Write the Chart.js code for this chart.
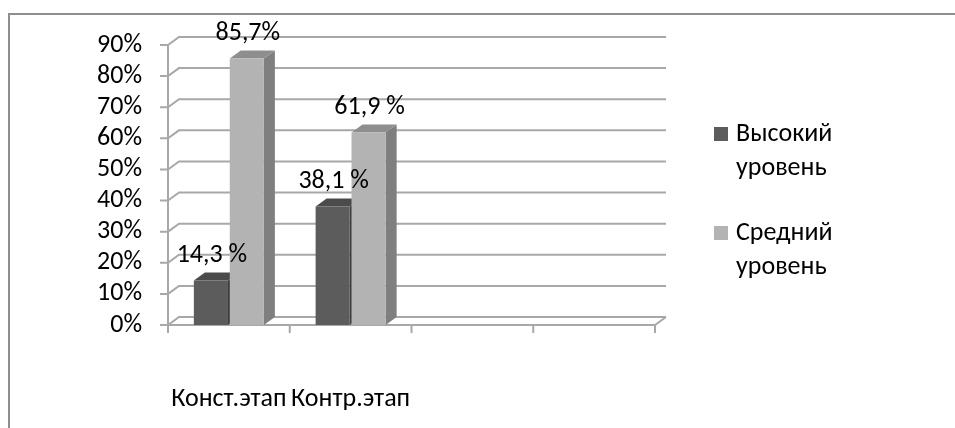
<!DOCTYPE html>
<html lang="ru">
<head>
<meta charset="utf-8">
<title>Уровни по этапам</title>
<script src="https://cdn.jsdelivr.net/npm/chart.js@4.4.1/dist/chart.umd.min.js"></script>
<style>
  html, body { margin: 0; padding: 0; background: #fff; }
  canvas { display: block; }
</style>
</head>
<body>
<canvas id="levels" width="955" height="428"></canvas>
<script>
// Stages on the x axis (last two slots are left empty)
const stages = ['Конст.этап', 'Контр.этап', '', '']
// Share of pupils per level, %
const highLevel = [14.3, 38.1, null, null]
const midLevel = [85.7, 61.9, null, null]
// Value captions as written above the bars
const highLabels = ['14,3 %', '38,1 %']
const midLabels = ['85,7%', '61,9 %']
// Legend entries, one line per row
const seriesNames = [['Высокий', 'уровень'], ['Средний', 'уровень']]

const FONT = 'Carlito, "Open Sans", sans-serif'
const FONT_SIZE = 26
const DX = 11 // depth offset of the 3D walls
const DY = -8

const shades = [
  { front: '#5c5c5c', top: '#4b4b4b', side: '#3e3e3e' },
  { front: '#b3b3b3', top: '#8e8e8e', side: '#7f7f7f' }
]

function poly (ctx, pts, fill) {
  ctx.beginPath()
  ctx.moveTo(pts[0][0], pts[0][1])
  pts.slice(1).forEach(p => ctx.lineTo(p[0], p[1]))
  ctx.closePath()
  ctx.fillStyle = fill
  ctx.fill()
}

// Frame, back wall, floor and the depth faces of the bars
const box3d = {
  id: 'box3d',
  beforeDraw (chart) {
    const { ctx, width, height } = chart
    ctx.save()
    ctx.fillStyle = '#fff'
    ctx.fillRect(0, 0, width, height)
    ctx.strokeStyle = '#8e8e8e'
    ctx.lineWidth = 2
    ctx.strokeRect(9, 14, width + 20, height + 20)
    ctx.restore()
  },
  beforeDatasetsDraw (chart) {
    const { ctx, chartArea: a, scales: { y } } = chart
    ctx.save()
    ctx.strokeStyle = '#a8a8a8'
    ctx.lineWidth = 2
    y.ticks.forEach(t => {
      const py = y.getPixelForValue(t.value)
      ctx.beginPath()
      ctx.moveTo(a.left - 8, py)
      ctx.lineTo(a.left, py)
      ctx.lineTo(a.left + DX, py + DY)
      ctx.lineTo(a.right + DX, py + DY)
      ctx.stroke()
    })
    // floor front edge
    ctx.beginPath()
    ctx.moveTo(a.left, a.bottom)
    ctx.lineTo(a.right, a.bottom)
    ctx.lineTo(a.right + DX, a.bottom + DY)
    ctx.stroke()
    // value axis
    ctx.beginPath()
    ctx.moveTo(a.left, a.top)
    ctx.lineTo(a.left, a.bottom)
    ctx.stroke()
    // category dividers
    const n = stages.length
    for (let i = 0; i <= n; i++) {
      const px = a.left + (a.right - a.left) * i / n
      ctx.beginPath()
      ctx.moveTo(px, a.bottom)
      ctx.lineTo(px, a.bottom + 8)
      ctx.stroke()
    }
    // side and top faces
    chart.data.datasets.forEach((ds, di) => {
      chart.getDatasetMeta(di).data.forEach((bar, i) => {
        if (ds.data[i] == null) return
        const { x, y: top, base, width } = bar.getProps(['x', 'y', 'base', 'width'], true)
        const l = x - width / 2
        const r = x + width / 2
        poly(ctx, [[r, top], [r + DX, top + DY], [r + DX, base + DY], [r, base]], shades[di].side)
        poly(ctx, [[l, top], [l + DX, top + DY], [r + DX, top + DY], [r, top]], shades[di].top)
      })
    })
    ctx.restore()
  },
  afterDatasetsDraw (chart) {
    const { ctx } = chart
    const captions = [highLabels, midLabels]
    ctx.save()
    ctx.font = `${FONT_SIZE}px ${FONT}`
    ctx.fillStyle = '#000'
    ctx.textAlign = 'center'
    ctx.textBaseline = 'middle'
    chart.data.datasets.forEach((ds, di) => {
      chart.getDatasetMeta(di).data.forEach((bar, i) => {
        if (ds.data[i] == null) return
        ctx.fillText(captions[di][i], bar.x + 1, bar.y - 25)
      })
    })
    ctx.restore()
  },
  afterDraw (chart) {
    const { ctx, chartArea: a } = chart
    ctx.save()
    ctx.font = `${FONT_SIZE}px ${FONT}`
    ctx.textBaseline = 'middle'
    ctx.textAlign = 'left'
    const x0 = a.right + 59
    seriesNames.forEach((lines, k) => {
      const yy = 134 + k * 99
      ctx.fillStyle = chart.data.datasets[k].backgroundColor
      ctx.fillRect(x0, yy - 7, 14, 14)
      ctx.fillStyle = '#000'
      lines.forEach((t, j) => ctx.fillText(t, x0 + 22, yy + j * 34))
    })
    ctx.restore()
  }
}

new Chart(document.getElementById('levels'), {
  type: 'bar',
  data: {
    labels: stages,
    datasets: [
      {
        label: seriesNames[0].join(' '),
        data: highLevel,
        backgroundColor: shades[0].front,
        categoryPercentage: 0.59,
        barPercentage: 0.95
      },
      {
        label: seriesNames[1].join(' '),
        data: midLevel,
        backgroundColor: shades[1].front,
        categoryPercentage: 0.59,
        barPercentage: 0.95
      }
    ]
  },
  options: {
    responsive: false,
    animation: false,
    devicePixelRatio: 1,
    layout: { padding: { top: 45, right: 300, left: 0, bottom: 0 } },
    plugins: {
      legend: { display: false },
      tooltip: { enabled: false }
    },
    scales: {
      x: {
        grid: { display: false, drawTicks: false },
        border: { display: false },
        ticks: {
          color: '#000',
          padding: 59,
          maxRotation: 0,
          autoSkip: false,
          font: { family: FONT, size: FONT_SIZE }
        },
        afterFit: (s) => { s.height = 103 }
      },
      y: {
        min: 0,
        max: 90,
        grid: { display: false, drawTicks: false },
        border: { display: false },
        ticks: {
          stepSize: 10,
          autoSkip: false,
          color: '#000',
          padding: 26,
          font: { family: FONT, size: FONT_SIZE },
          callback: (v) => v + '%'
        },
        afterFit: (s) => { s.width = 168 }
      }
    }
  },
  plugins: [box3d]
})
</script>
</body>
</html>
